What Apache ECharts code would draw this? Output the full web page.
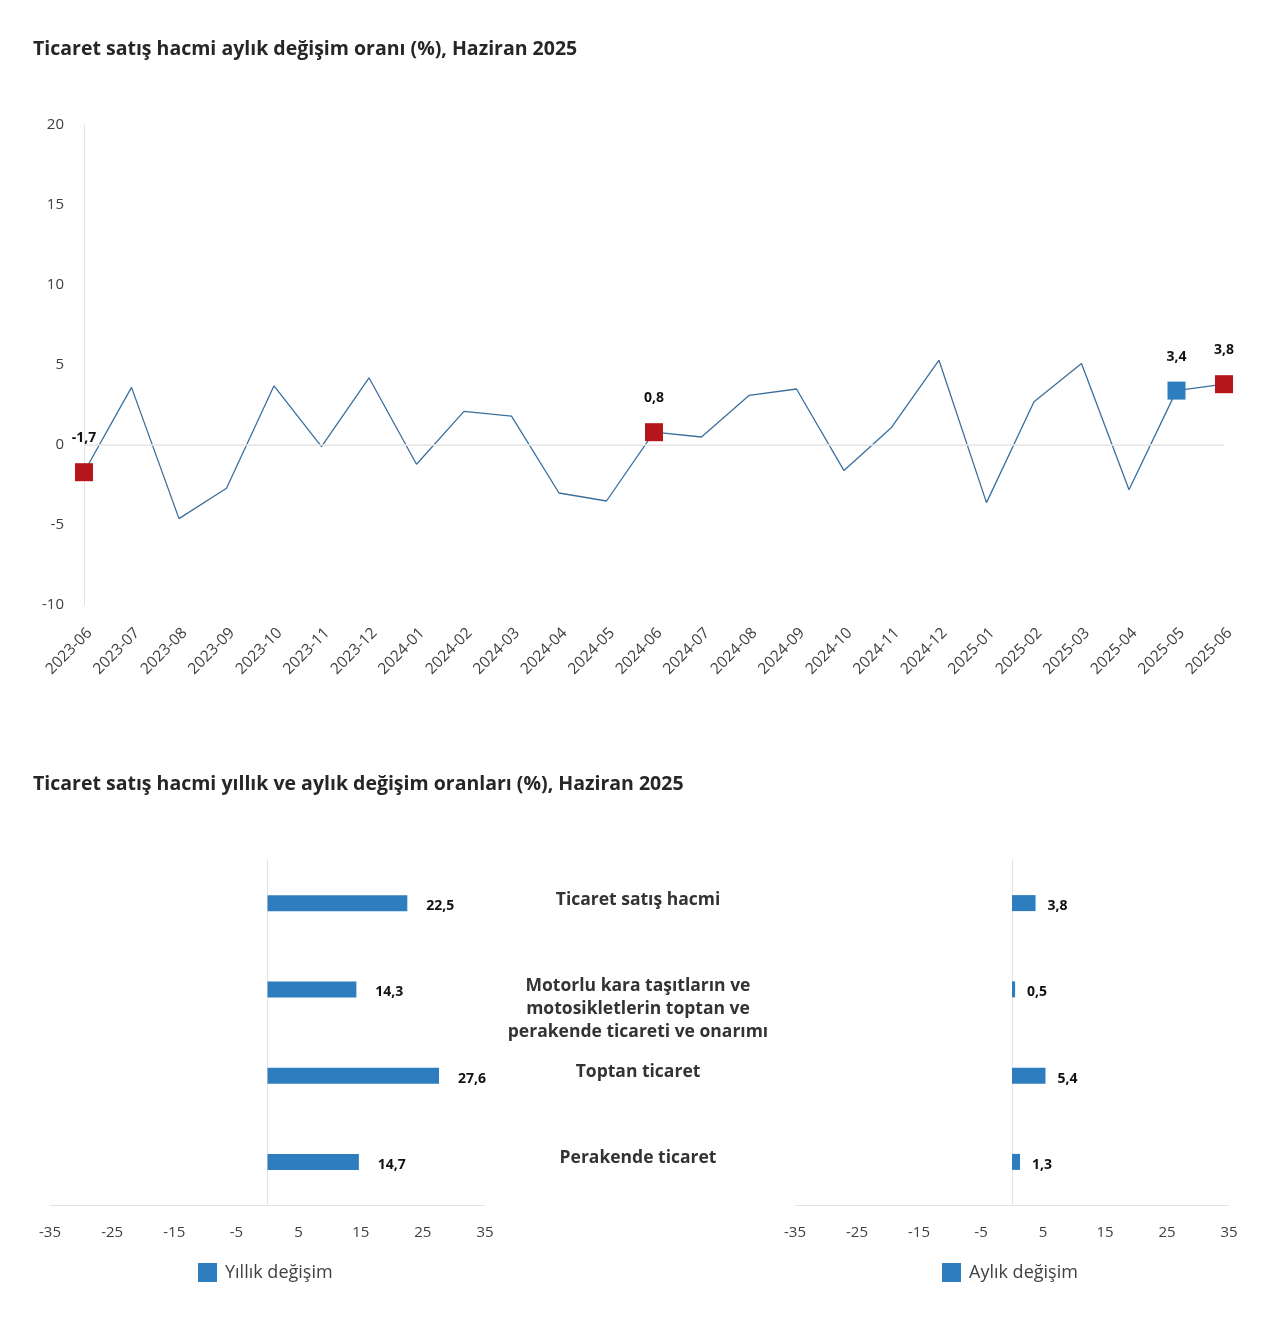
<!DOCTYPE html>
<html>
<head>
<meta charset="utf-8">
<script src="https://cdn.jsdelivr.net/npm/echarts@6/dist/echarts.min.js"></script>
<style>
html,body{margin:0;padding:0;background:#fff;}
#c{width:1280px;height:1334px;}
</style>
</head>
<body>
<div id="c"></div>
<script>
// ---- Data ----
var months = ['2023-06','2023-07','2023-08','2023-09','2023-10','2023-11','2023-12','2024-01','2024-02','2024-03','2024-04','2024-05','2024-06','2024-07','2024-08','2024-09','2024-10','2024-11','2024-12','2025-01','2025-02','2025-03','2025-04','2025-05','2025-06'];
var monthlyChange = [-1.7,3.6,-4.6,-2.7,3.7,-0.1,4.2,-1.2,2.1,1.8,-3.0,-3.5,0.8,0.5,3.1,3.5,-1.6,1.1,5.3,-3.6,2.7,5.1,-2.8,3.4,3.8];
var highlightMonths = ['2023-06','2024-06','2025-05','2025-06'];
var highlightKinds = ['red','red','blue','red'];
var yTicksTop = {min:-10, max:20, interval:5};

var sectors = ['Ticaret satış hacmi','Motorlu kara taşıtların ve\nmotosikletlerin toptan ve\nperakende ticareti ve onarımı','Toptan ticaret','Perakende ticaret'];
var annualChange = [22.5,14.3,27.6,14.7];
var monthlySectorChange = [3.8,0.5,5.4,1.3];
var xTicksBottom = {min:-35, max:35, interval:10};

var title1 = 'Ticaret satış hacmi aylık değişim oranı (%), Haziran 2025';
var title2 = 'Ticaret satış hacmi yıllık ve aylık değişim oranları (%), Haziran 2025';
var seriesAnnualName = 'Yıllık değişim';
var seriesMonthlyName = 'Aylık değişim';

// ---- Styles ----
var FONT = "'Open Sans', 'Noto Sans', sans-serif";
var BLUE = '#2e7dbf';
var RED = '#b5161b';
var LINE = '#3b6f9c';
var AXIS = '#e3e3e3';
var TXT = '#404040';

function fmt(v){ return String(v.toFixed(1)).replace('.', ','); }

var lineData = monthlyChange.map(function(v,i){
  var h = highlightMonths.indexOf(months[i]);
  if (h < 0) return {value:v, symbol:'none'};
  return {
    value: v, symbol:'rect', symbolSize:18,
    itemStyle:{color: highlightKinds[h]==='red'?RED:BLUE},
    label:{show:true, position:'top', distance:18, formatter:function(p){return fmt(p.value);},
      fontFamily:FONT, fontWeight:'bold', fontSize:14, color:'#111'}
  };
});

var chart = echarts.init(document.getElementById('c'), null, {renderer:'canvas'});
var option = {
  backgroundColor:'#fff',
  animation:false,
  textStyle:{fontFamily:FONT},
  title:[
    {text:title1, left:28, top:34, textStyle:{fontFamily:FONT, fontSize:19.5, fontWeight:'bold', color:'#262626'}},
    {text:title2, left:28, top:769, textStyle:{fontFamily:FONT, fontSize:19.5, fontWeight:'bold', color:'#262626'}}
  ],
  legend:[
    {data:[seriesAnnualName], left:193, top:1258, itemWidth:19, itemHeight:19, itemGap:9,
      icon:'rect', textStyle:{fontFamily:FONT, fontSize:18, color:TXT, padding:[0,0,0,3]}},
    {data:[seriesMonthlyName], left:937, top:1258, itemWidth:19, itemHeight:19, itemGap:9,
      icon:'rect', textStyle:{fontFamily:FONT, fontSize:18, color:TXT, padding:[0,0,0,3]}}
  ],
  grid:[
    {left:84, width:1140, top:125, height:480},
    {left:50, width:435, top:860, height:345},
    {left:795, width:434, top:860, height:345},
    {left:795, width:434, top:845, height:345}
  ],
  xAxis:[
    {gridIndex:0, type:'category', data:months, boundaryGap:false,
      axisLine:{lineStyle:{color:AXIS}}, axisTick:{show:false},
      axisLabel:{rotate:45, verticalAlign:'top', fontFamily:FONT, fontSize:15.5, color:TXT, margin:20, interval:0}},
    {gridIndex:1, type:'value', min:xTicksBottom.min, max:xTicksBottom.max, interval:xTicksBottom.interval,
      splitLine:{show:false}, axisLine:{show:true, lineStyle:{color:AXIS}}, axisTick:{show:false},
      axisLabel:{fontFamily:FONT, fontSize:15, color:TXT, margin:20}},
    {gridIndex:2, type:'value', min:xTicksBottom.min, max:xTicksBottom.max, interval:xTicksBottom.interval,
      splitLine:{show:false}, axisLine:{show:true, lineStyle:{color:AXIS}}, axisTick:{show:false},
      axisLabel:{fontFamily:FONT, fontSize:15, color:TXT, margin:20}},
    {gridIndex:3, type:'value', min:0, max:70, show:false}
  ],
  yAxis:[
    {gridIndex:0, type:'value', min:yTicksTop.min, max:yTicksTop.max, interval:yTicksTop.interval,
      splitLine:{show:false}, axisLine:{show:true, onZero:false, lineStyle:{color:AXIS}}, axisTick:{show:false},
      axisLabel:{fontFamily:FONT, fontSize:15, color:TXT, margin:20}},
    {gridIndex:1, type:'category', data:sectors, inverse:true,
      axisLine:{show:true, lineStyle:{color:AXIS}}, axisTick:{show:false}, axisLabel:{show:false}},
    {gridIndex:2, type:'category', data:sectors, inverse:true,
      axisLine:{show:true, lineStyle:{color:AXIS}}, axisTick:{show:false}, axisLabel:{show:false}},
    {gridIndex:3, type:'category', data:sectors, inverse:true,
      axisLine:{show:false}, axisTick:{show:false}, splitLine:{show:false},
      axisLabel:{show:true, margin:157, align:'center', verticalAlign:'top', lineHeight:23,
        fontFamily:FONT, fontSize:17.5, fontWeight:'bold', color:'#333'}}
  ],
  series:[
    {type:'line', xAxisIndex:0, yAxisIndex:0, data:lineData, symbol:'none',
      lineStyle:{color:LINE, width:1.3}, itemStyle:{color:LINE},
      markLine:{silent:true, symbol:'none', label:{show:false},
        lineStyle:{color:'#e8e8e8', width:1.5, type:'solid'}, data:[{yAxis:0}]}},
    {type:'bar', name:seriesAnnualName, xAxisIndex:1, yAxisIndex:1, data:annualChange, barWidth:16,
      itemStyle:{color:BLUE},
      label:{show:true, position:'right', distance:19, offset:[0,3], formatter:function(p){return fmt(p.value);},
        fontFamily:FONT, fontSize:14, fontWeight:'bold', color:'#111'}},
    {type:'bar', name:seriesMonthlyName, xAxisIndex:2, yAxisIndex:2, data:monthlySectorChange, barWidth:16,
      itemStyle:{color:BLUE},
      label:{show:true, position:'right', distance:12, offset:[0,3], formatter:function(p){return fmt(p.value);},
        fontFamily:FONT, fontSize:14, fontWeight:'bold', color:'#111'}}
  ]
};
chart.setOption(option);
</script>
</body>
</html>
